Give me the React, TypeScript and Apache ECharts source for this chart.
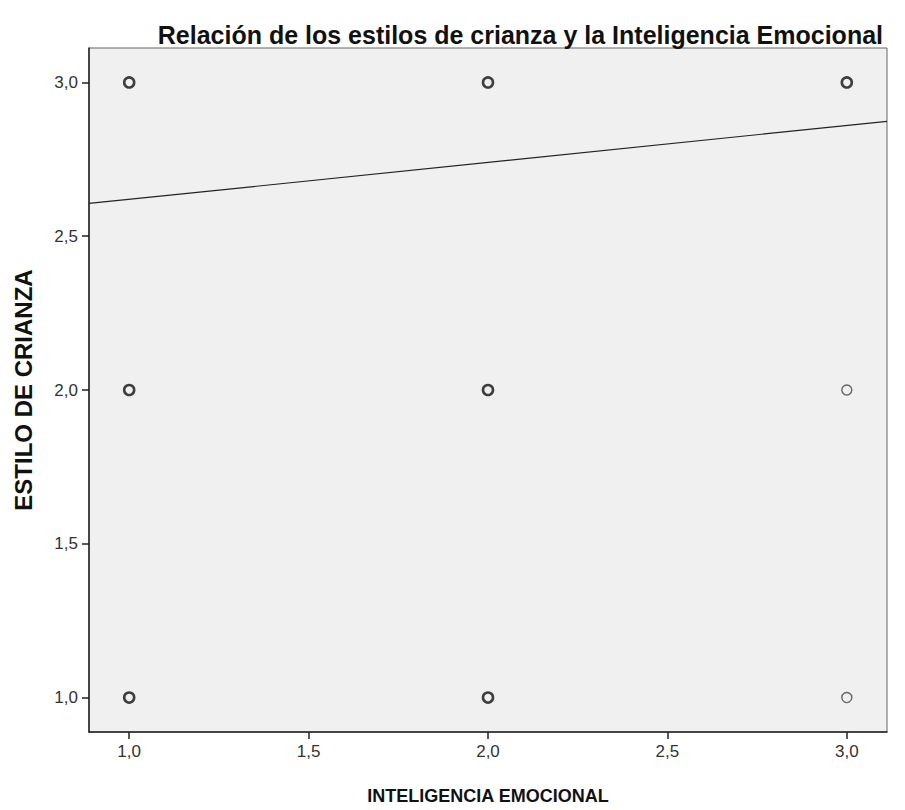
import React, { useEffect, useRef } from "react";
import * as echarts from "echarts";

const titleText = "Relación de los estilos de crianza y la Inteligencia Emocional";
const xName = "INTELIGENCIA EMOCIONAL";
const yName = "ESTILO DE CRIANZA";
const tickValues = [1.0, 1.5, 2.0, 2.5, 3.0];
// observed points: [inteligencia, estilo]
const pointX = [1, 2, 3, 1, 2, 3, 1, 2, 3];
const pointY = [3, 3, 3, 2, 2, 2, 1, 1, 1];
// heavier outline where many cases overlap
const pointHeavy = [true, true, true, true, true, false, true, true, false];
// fitted linear regression
const fitIntercept = 2.5;
const fitSlope = 0.12;
const axisMin = 0.888;
const axisMax = 3.112;

const fmt = (v: number) => v.toFixed(1).replace(".", ",");
const FONT = "Liberation Sans, Arial, sans-serif";

export default function App() {
  const ref = useRef<HTMLDivElement>(null);
  useEffect(() => {
    if (!ref.current) return;
    const chart = echarts.init(ref.current, null, { renderer: "svg" });
    const pts = pointX.map((x, i) => ({
      value: [x, pointY[i]],
      itemStyle: {
        color: "rgba(0,0,0,0)",
        borderColor: pointHeavy[i] ? "#111" : "#444",
        borderWidth: pointHeavy[i] ? 2.6 : 1.4,
      },
    }));
    const fit = [axisMin, axisMax].map((x) => [x, fitIntercept + fitSlope * x]);
    const axisCommon = (name: string, size: number, gap: number, margin: number) => ({
      type: "value",
      min: axisMin,
      max: axisMax,
      name,
      nameLocation: "middle",
      nameGap: gap,
      nameTextStyle: {
        fontFamily: FONT,
        fontSize: size,
        fontWeight: "bold",
        color: "#111",
      },
      splitLine: { show: false },
      axisLine: { show: true, lineStyle: { color: "#222", width: 1.5 } },
      axisTick: {
        show: true,
        length: 7,
        lineStyle: { color: "#222", width: 1.5 },
        customValues: tickValues,
      },
      axisLabel: {
        customValues: tickValues,
        formatter: (v: number) => fmt(v),
        fontFamily: FONT,
        fontSize: 17,
        color: "#333",
        margin,
      },
    });
    chart.setOption({
      animation: false,
      backgroundColor: "#ffffff",
      title: {
        text: titleText,
        right: 17,
        top: 17,
        textStyle: {
          fontFamily: FONT,
          fontSize: 25,
          fontWeight: "bold",
          color: "#111",
        },
      },
      grid: {
        left: 89,
        right: 18,
        top: 48,
        bottom: 77,
        show: true,
        backgroundColor: "#f0f0f0",
        borderColor: "#666",
        borderWidth: 1,
      },
      xAxis: axisCommon(xName, 18, 55, 11),
      yAxis: axisCommon(yName, 24, 54, 11),
      series: [
        {
          type: "line",
          data: fit,
          symbol: "none",
          lineStyle: { color: "#222", width: 1.2 },
          silent: true,
        },
        {
          type: "scatter",
          data: pts,
          symbol: "circle",
          symbolSize: 10,
        },
      ],
    });
    return () => chart.dispose();
  }, []);
  return (
    <div
      ref={ref}
      style={{ position: "fixed", left: 0, top: 0, width: 905, height: 810 }}
    />
  );
}
